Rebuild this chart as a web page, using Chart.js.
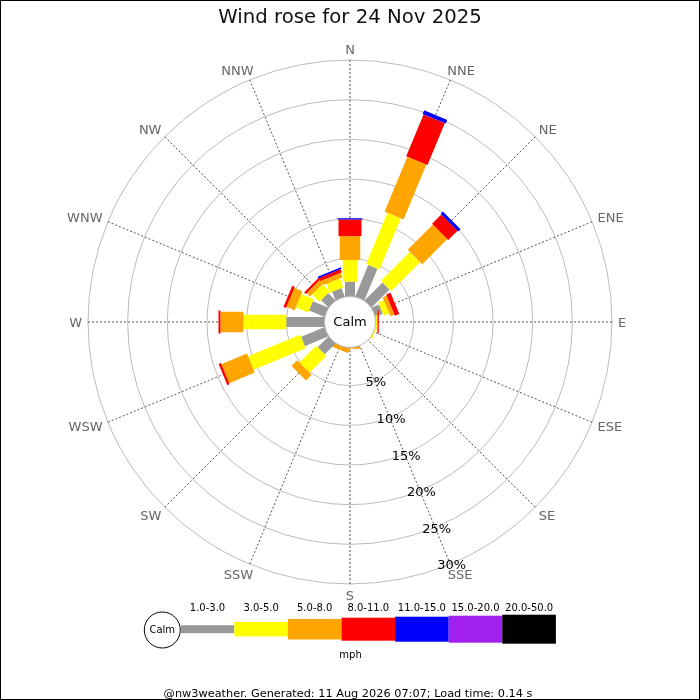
<!DOCTYPE html>
<html>
<head>
<meta charset="utf-8">
<title>Wind rose</title>
<script src="https://cdn.jsdelivr.net/npm/chart.js@4/dist/chart.umd.min.js"></script>
<style>
  html, body { margin: 0; padding: 0; background: #fff; }
  canvas { display: block; }
</style>
</head>
<body>
<canvas id="cvs_rose" width="700" height="700"></canvas>
<script>
// directions, clockwise from north
var directions = ['N', 'NNE', 'NE', 'ENE', 'E', 'ESE', 'SE', 'SSE', 'S', 'SSW', 'SW', 'WSW', 'W', 'WNW', 'NW', 'NNW'];

// speed bins (mph)
var speedBins = ['1.0-3.0', '3.0-5.0', '5.0-8.0', '8.0-11.0', '11.0-15.0', '15.0-20.0', '20.0-50.0'];

// frequency (%) per direction for each speed bin
var freq1to3   = [2.05, 4.5, 3.4, 1.2, 0.2, 0.05, 0, 0, 0, 0, 2.1, 3.4, 5.0, 2.3, 1.5, 1.35];
var freq3to5   = [2.75, 7.0, 5.15, 0.75, 0.15, 0.3, 0, 0, 0, 0, 3.0, 7.1, 5.4, 1.7, 1.3, 1.2];
var freq5to8   = [3.0, 7.5, 4.5, 0.55, 0.1, 0, 0, 0, 0.35, 0.7, 1.0, 3.5, 2.9, 1.1, 0.6, 0.6];
var freq8to11  = [2.1, 5.7, 1.65, 0.6, 0.15, 0, 0, 0, 0, 0, 0, 0.3, 0.25, 0.35, 0.3, 0.45];
var freq11to15 = [0.15, 0.5, 0.4, 0, 0, 0, 0, 0, 0, 0, 0, 0, 0, 0, 0, 0.2];
var freq15to20 = [0, 0, 0, 0, 0, 0, 0, 0, 0, 0, 0, 0, 0, 0, 0, 0];
var freq20to50 = [0, 0, 0, 0, 0, 0, 0, 0, 0, 0, 0, 0, 0, 0, 0, 0];

// ring ticks
var tickValues = [5, 10, 15, 20, 25, 30];
var tickLabels = ['5%', '10%', '15%', '20%', '25%', '30%'];
var tickAxis = 'SSE';

var binColors = ['#999999', '#ffff00', '#ffa500', '#ff0000', '#0000ff', '#a020f0', '#000000'];
var barWidths = [10, 14.5, 20.5, 23, 25, 27, 29];
var legendHeights = [8, 14.5, 20.5, 23, 25, 27, 29];

var allFreqs = [freq1to3, freq3to5, freq5to8, freq8to11, freq11to15, freq15to20, freq20to50];

Chart.defaults.font.family = "'DejaVu Sans', sans-serif";

var windRose = {
    id: 'windRose',
    afterDatasetsDraw: function(chart) {
        var ctx = chart.ctx;
        var sc = chart.scales.r;
        var cx = sc.xCenter, cy = sc.yCenter;

        // stacked bars
        for (var i = 0; i < directions.length; i++) {
            var angle = sc.getIndexAngle(i) - Math.PI / 2;
            var cum = 0;
            chart.data.datasets.forEach(function(ds, k) {
                var v = ds.data[i];
                if (!v) return;
                var r0 = sc.getDistanceFromCenterForValue(cum);
                cum += v;
                var r1 = sc.getDistanceFromCenterForValue(cum);
                var w = barWidths[k];
                ctx.save();
                ctx.translate(cx, cy);
                ctx.rotate(angle);
                ctx.fillStyle = ds.backgroundColor;
                ctx.fillRect(r0, -w / 2, r1 - r0, w);
                ctx.restore();
            });
        }

        // calm circle
        ctx.save();
        ctx.beginPath();
        ctx.arc(cx, cy, 25.5, 0, Math.PI * 2);
        ctx.fillStyle = '#fff';
        ctx.fill();
        ctx.strokeStyle = '#bbb';
        ctx.lineWidth = 1;
        ctx.stroke();
        ctx.fillStyle = '#000';
        ctx.font = "13px 'DejaVu Sans'";
        ctx.textAlign = 'center';
        ctx.textBaseline = 'middle';
        ctx.fillText('Calm', cx, cy + 1);

        // direction labels
        ctx.font = "13px 'DejaVu Sans'";
        ctx.fillStyle = '#666';
        ctx.textAlign = 'left';
        ctx.textBaseline = 'alphabetic';
        var capH = 9.5;
        for (var j = 0; j < directions.length; j++) {
            var a = sc.getIndexAngle(j);
            var s = Math.sin(a), c = Math.cos(a);
            if (Math.abs(s) < 1e-9) s = 0;
            var p = sc.getPointPosition(j, sc.drawingArea + 6);
            var tw = ctx.measureText(directions[j]).width;
            var left;
            if (s >= 0) left = p.x - tw * 0.5 * Math.pow(1 - s, 2);
            else left = p.x - tw + tw * 0.5 * Math.pow(1 + s, 2);
            var base = p.y + capH * (1 - c) / 2;
            ctx.fillText(directions[j], left, base);
        }

        // ring labels along one spoke
        var ti = directions.indexOf(tickAxis);
        ctx.fillStyle = '#000';
        ctx.textAlign = 'center';
        ctx.textBaseline = 'middle';
        for (var t = 0; t < tickValues.length; t++) {
            var tp = sc.getPointPosition(ti, sc.getDistanceFromCenterForValue(tickValues[t]));
            ctx.fillText(tickLabels[t], tp.x + 1.5, tp.y + 2);
        }

        // speed legend
        var x0 = 180.7, segW = 53.6, ly = 629.2;
        ctx.beginPath();
        ctx.arc(162.3, 630, 18, 0, Math.PI * 2);
        ctx.fillStyle = '#fff';
        ctx.fill();
        ctx.strokeStyle = '#000';
        ctx.stroke();
        ctx.fillStyle = '#000';
        ctx.font = "10px 'DejaVu Sans'";
        ctx.fillText('Calm', 162.3, 630.5);
        for (var k = 0; k < speedBins.length; k++) {
            var h = legendHeights[k];
            ctx.fillStyle = binColors[k];
            ctx.fillRect(x0 + k * segW, ly - h / 2, segW, h);
            ctx.fillStyle = '#000';
            ctx.textBaseline = 'alphabetic';
            ctx.fillText(speedBins[k], x0 + k * segW + segW / 2, 611);
        }
        ctx.fillText('mph', 350.5, 658);

        // footer
        ctx.font = "11.3px 'DejaVu Sans'";
        ctx.fillText('@nw3weather. Generated: 11 Aug 2026 07:07; Load time: 0.14 s', 348, 697);

        // frame
        ctx.strokeStyle = '#000';
        ctx.lineWidth = 1;
        ctx.strokeRect(0.5, 0.5, chart.width - 1, chart.height - 1);
        ctx.restore();
    }
};

var datasets = allFreqs.map(function(arr, k) {
    return {
        label: speedBins[k],
        data: arr,
        backgroundColor: binColors[k],
        borderWidth: 0,
        showLine: false,
        fill: false,
        pointRadius: 0,
        pointHoverRadius: 0
    };
});

var config = {
    type: 'radar',
    data: {
        labels: directions,
        datasets: datasets
    },
    options: {
        responsive: false,
        animation: false,
        events: [],
        layout: {
            padding: { left: 88, right: 88, top: 0, bottom: 116 }
        },
        plugins: {
            legend: { display: false },
            tooltip: { enabled: false },
            title: {
                display: true,
                text: 'Wind rose for 24 Nov 2025',
                color: '#111',
                font: { size: 19.7, weight: 'normal', lineHeight: '24px' },
                padding: { top: 6, bottom: 30 }
            }
        },
        scales: {
            r: {
                min: -3.03,
                max: 30,
                startAngle: 0,
                afterBuildTicks: function(scale) {
                    scale.ticks = tickValues.map(function(v) { return { value: v }; });
                },
                ticks: { display: false },
                pointLabels: { display: false },
                grid: { circular: true, color: '#bbb', lineWidth: 1 },
                angleLines: { color: '#555', lineWidth: 1, borderDash: [2, 2] }
            }
        }
    },
    plugins: [windRose]
};

window.onload = function() {
    window.myRose = new Chart(document.getElementById('cvs_rose'), config);
};
</script>
</body>
</html>
